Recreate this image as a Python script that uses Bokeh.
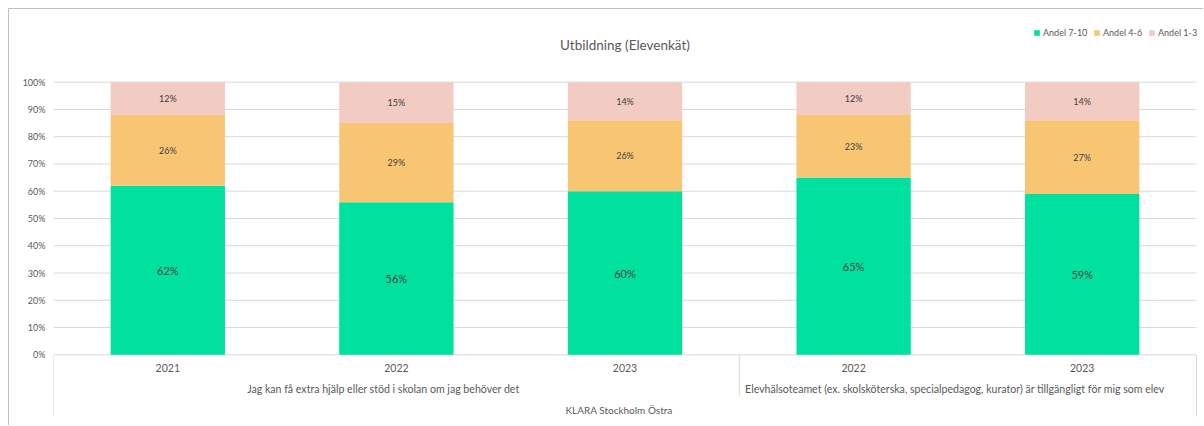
from bokeh.plotting import figure
from bokeh.models import (ColumnDataSource, FixedTicker, NumeralTickFormatter, Legend,
                          LegendItem, Label, Range1d)
from bokeh.core.properties import value
from bokeh.embed import file_html
from bokeh.resources import INLINE

# ---------------- data ----------------
years = ["2021", "2022", "2023", "2022", "2023"]
groups = ["Jag kan få extra hjälp eller stöd i skolan om jag behöver det",
          "Elevhälsoteamet (ex. skolsköterska, specialpedagog, kurator) är tillgängligt för mig som elev"]
group_sizes = [3, 2]
top_label = "KLARA Stockholm Östra"
series_names = ["Andel 7-10", "Andel 4-6", "Andel 1-3"]
andel_7_10 = [62, 56, 60, 65, 59]
andel_4_6 = [26, 29, 26, 23, 27]
andel_1_3 = [12, 15, 14, 12, 14]
y_ticks = [0, 10, 20, 30, 40, 50, 60, 70, 80, 90, 100]
title_text = "Utbildning (Elevenkät)"

# ---------------- style ----------------
FONT = "Lato"
colors = ["#00e09e", "#f8c673", "#f2cbc2"]
grid_color = "#d9d9d9"
text_color = "#595959"
label_color = "#404040"

TOP = 9             # page offset of canvas
W, H = 1195, 417
LEFT = 44
PLOT_W = 1143       # width of the category area in px
PX = 272.6          # pixels per 100 %
ZERO = 354.3 - TOP  # figure-pixel row of 0 %
y_end = ZERO / PX
y_start = -(H - ZERO) / PX

n = len(years)
UX = PLOT_W / n     # px per category
x_end = n + (W - LEFT - PLOT_W) / UX


def yrow(page_y):
    return -(page_y - TOP - ZERO) / PX


xs = [i + 0.5 for i in range(n)]
series = [andel_7_10, andel_4_6, andel_1_3]
fr = [[v / 100 for v in s] for s in series]

p = figure(width=W, height=H, output_backend="svg", toolbar_location=None,
           x_range=Range1d(0, x_end), y_range=Range1d(y_start, y_end),
           x_axis_type=None, min_border_left=LEFT, min_border_right=0,
           min_border_top=0, min_border_bottom=0)
p.styles = {"margin-left": "8px", "margin-top": "8px",
            "border-left": "1px solid #c0c0c0", "border-top": "1px solid #c0c0c0"}
p.outline_line_color = None
p.background_fill_color = "white"
p.xgrid.visible = False
p.ygrid.visible = False

yax = p.yaxis[0]
yax.ticker = FixedTicker(ticks=[t / 100 for t in y_ticks])
yax.formatter = NumeralTickFormatter(format="0%")
yax.axis_line_color = None
yax.major_tick_line_color = None
yax.minor_tick_line_color = None
yax.major_tick_out = 0
yax.major_tick_in = 0
yax.major_label_standoff = 8
yax.major_label_text_font = FONT
yax.major_label_text_font_size = "9px"
yax.major_label_text_color = text_color

# horizontal gridlines across the category area
gy = [t / 100 for t in y_ticks]
p.segment(x0=[0] * len(gy), y0=gy, x1=[n] * len(gy), y1=gy,
          line_color=grid_color, line_width=1)

# stacked bars
bottom = [0.0] * n
renderers = []
for k, s in enumerate(fr):
    top = [b + v for b, v in zip(bottom, s)]
    src = ColumnDataSource(dict(x=xs, bottom=bottom, top=top,
                                mid=[(b + t) / 2 for b, t in zip(bottom, top)],
                                lab=[f"{v}%" for v in series[k]]))
    r = p.vbar(x="x", width=0.5, bottom="bottom", top="top", source=src,
               fill_color=colors[k], line_color=None)
    renderers.append(r)
    p.text(x="x", y="mid", text="lab", source=src, text_align="center",
           text_baseline="middle", text_font=value(FONT),
           text_font_size="11px" if k == 0 else "9px", text_color=label_color)
    bottom = top

# category axis (multi-level) drawn below 0 %
bounds = [0]
for g in group_sizes:
    bounds.append(bounds[-1] + g)
outer = yrow(416)
inner = yrow(395)
sep_y1 = [outer if b in (0, n) else inner for b in bounds]
p.segment(x0=bounds, y0=[0] * len(bounds), x1=bounds, y1=sep_y1,
          line_color=grid_color, line_width=1)

p.text(x=xs, y=[yrow(367)] * n, text=years, text_align="center", text_baseline="middle",
       text_font=value(FONT), text_font_size="10.5px", text_color=text_color)
shift = -13 / UX
gcent = [(bounds[i] + bounds[i + 1]) / 2 + shift for i in range(len(groups))]
p.text(x=gcent, y=[yrow(388)] * len(groups), text=groups, text_align="center",
       text_baseline="middle", text_font=value(FONT), text_font_size="10.6px",
       text_color=text_color)
p.text(x=[n / 2 - 6 / UX], y=[yrow(409)], text=[top_label], text_align="center",
       text_baseline="middle", text_font=value(FONT), text_font_size="10px",
       text_color=text_color)

# title
p.add_layout(Label(x=n / 2, y=yrow(44), text=title_text, text_align="center",
                   text_baseline="middle", text_font=FONT, text_font_size="13.5px",
                   text_color=text_color))

# legend: one Legend per entry, laid out horizontally at top right
leg_x = [980, 1040, 1095]
leg_y = H - (38 - TOP)
for nm, r, lx in zip(series_names, renderers, leg_x):
    lg = Legend(items=[LegendItem(label=nm, renderers=[r])],
                orientation="horizontal", location=(lx, leg_y),
                label_text_font=FONT, label_text_font_size="9px",
                label_text_color=text_color, glyph_width=7, glyph_height=7,
                label_standoff=3, spacing=0, padding=0, margin=0,
                label_height=9, label_width=10, border_line_color=None,
                background_fill_alpha=0)
    p.add_layout(lg)

open("out.html", "w").write(file_html(p, INLINE))
